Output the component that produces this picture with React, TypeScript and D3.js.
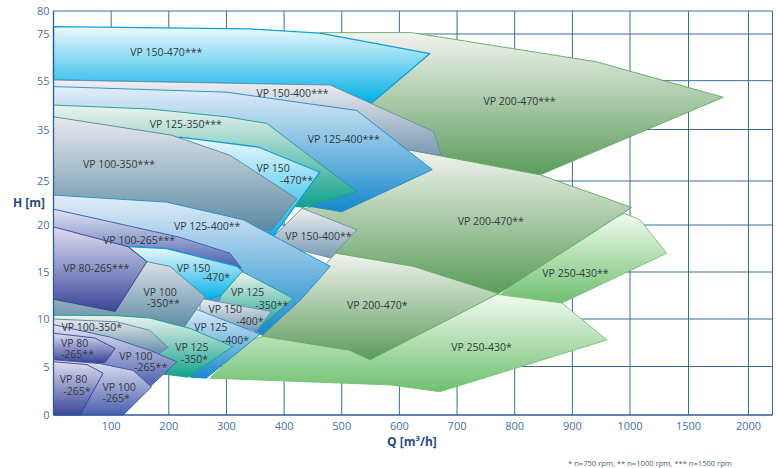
import React, { useEffect, useRef } from 'react';
import * as d3 from 'd3';

type Pt = [number, number];

// broken axes: Q is linear to 1000 then compressed, H is stretched at the bottom
const Q_BREAKS = [0, 1000, 1500, 2000, 2200];
const H_BREAKS = [0, 5, 10, 15, 20, 25, 35, 55, 75, 80];

const xTicks = [100, 200, 300, 400, 500, 600, 700, 800, 900, 1000, 1500, 2000];
const yTicks = [0, 5, 10, 15, 20, 25, 35, 55, 75, 80];

// operating fields [Q m3/h, H m]
const VP200_470_N1500: Pt[] = [[462, 75.3], [621, 75.3], [942, 63.1], [1790, 48.2], [844, 26.2], [618, 31.0], [532, 43.0]];
const VP250_430_N1000: Pt[] = [[991, 21.3], [1085, 20.6], [1314, 17.0], [882, 11.7], [772, 12.4], [878, 18.4]];
const VP200_470_N1000: Pt[] = [[618, 31.0], [844, 26.2], [1015, 22.0], [772, 12.7], [490, 17.0], [428, 21.7], [514, 23.4]];
const VP250_430_N750: Pt[] = [[772, 12.6], [882, 11.7], [960, 7.8], [670, 2.4], [584, 3.1], [271, 3.8], [341, 7.8], [600, 12.0]];
const VP200_470_N750: Pt[] = [[490, 17.0], [624, 15.6], [772, 12.7], [549, 5.7], [514, 6.7], [362, 8.2], [428, 13.1]];
const VP150_470_N1500: Pt[] = [[0, 76.6], [341, 76.1], [462, 75.2], [653, 66.6], [552, 45.9], [480, 53.1], [0, 55.3]];
const VP150_400_N1500: Pt[] = [[0, 55.3], [480, 53.2], [659, 34.6], [673, 30.0], [618, 31.0], [0, 49.1]];
const VP125_400_N1500: Pt[] = [[0, 52.6], [300, 50.3], [526, 42.8], [657, 27.2], [500, 21.5], [428, 22.3], [0, 31.0]];
const VP125_350_N1500: Pt[] = [[0, 45.0], [167, 43.4], [300, 40.2], [370, 37.5], [526, 23.8], [433, 22.0], [0, 27.1]];
const VP150_470_N1000: Pt[] = [[219, 33.5], [355, 31.6], [462, 26.7], [376, 18.4], [324, 20.0], [254, 22.8]];
const VP100_350_N1500: Pt[] = [[0, 40.2], [205, 33.9], [306, 30.0], [422, 23.0], [378, 19.4], [0, 21.7]];
const VP150_400_N1000: Pt[] = [[431, 21.9], [526, 19.5], [480, 16.5], [372, 18.2]];
const VP125_400_N1000: Pt[] = [[0, 23.4], [196, 22.6], [329, 20.6], [480, 15.6], [428, 12.0], [362, 8.3], [254, 12.0], [0, 16.3]];
const VP100_265_N1500: Pt[] = [[0, 21.8], [219, 18.7], [306, 17.0], [326, 15.4], [318, 15.6], [196, 17.5], [129, 17.7], [0, 18.9]];
const VP150_470_N750: Pt[] = [[129, 17.7], [196, 17.5], [318, 15.6], [329, 15.05], [292, 12.6], [263, 12.0], [202, 14.1]];
const VP125_350_N1000: Pt[] = [[327, 15.05], [416, 12.2], [353, 8.8], [280, 11.0], [292, 12.6]];
const VP150_400_N750: Pt[] = [[254, 12.2], [378, 10.8], [353, 8.8], [254, 9.9]];
const VP125_400_N750: Pt[] = [[237, 11.3], [358, 8.4], [265, 3.8], [237, 3.9], [219, 8.8]];
const VP100_350_N1000: Pt[] = [[115, 16.8], [162, 16.1], [202, 15.6], [263, 12.4], [225, 9.0], [0, 10.3], [0, 14.1]];
const VP80_265_N1500: Pt[] = [[0, 19.8], [129, 17.7], [162, 16.1], [107, 10.8], [0, 12.1]];
const VP125_350_N750: Pt[] = [[0, 10.4], [110, 10.35], [167, 10.1], [237, 9.0], [311, 7.1], [233, 3.9], [167, 4.4], [0, 5.7]];
const VP100_350_N750: Pt[] = [[0, 10.0], [110, 9.7], [167, 8.8], [199, 7.0], [176, 6.1], [0, 7.3]];
const VP100_265_N1000: Pt[] = [[0, 9.4], [98, 8.1], [167, 6.7], [214, 5.5], [167, 2.9], [0, 4.6]];
const VP80_265_N1000: Pt[] = [[0, 8.5], [72, 8.0], [107, 6.9], [89, 5.4], [0, 5.7]];
const VP100_265_N750: Pt[] = [[0, 5.7], [81, 5.3], [138, 4.6], [170, 2.9], [121, 0], [0, 0]];
const VP80_265_N750: Pt[] = [[0, 5.5], [58, 5.2], [86, 4.3], [46, 0], [0, 0]];

// back to front
const FIELDS: { model: string; points: Pt[] }[] = [
  { model: '200-470', points: VP200_470_N1500 },
  { model: '250-430', points: VP250_430_N1000 },
  { model: '200-470', points: VP200_470_N1000 },
  { model: '250-430', points: VP250_430_N750 },
  { model: '200-470', points: VP200_470_N750 },
  { model: '150-470', points: VP150_470_N1500 },
  { model: '150-400', points: VP150_400_N1500 },
  { model: '125-400', points: VP125_400_N1500 },
  { model: '125-350', points: VP125_350_N1500 },
  { model: '150-470', points: VP150_470_N1000 },
  { model: '100-350', points: VP100_350_N1500 },
  { model: '150-400', points: VP150_400_N1000 },
  { model: '125-400', points: VP125_400_N1000 },
  { model: '100-265', points: VP100_265_N1500 },
  { model: '150-470', points: VP150_470_N750 },
  { model: '125-350', points: VP125_350_N1000 },
  { model: '150-400', points: VP150_400_N750 },
  { model: '125-400', points: VP125_400_N750 },
  { model: '100-350', points: VP100_350_N1000 },
  { model: '80-265', points: VP80_265_N1500 },
  { model: '125-350', points: VP125_350_N750 },
  { model: '100-350', points: VP100_350_N750 },
  { model: '100-265', points: VP100_265_N1000 },
  { model: '80-265', points: VP80_265_N1000 },
  { model: '100-265', points: VP100_265_N750 },
  { model: '80-265', points: VP80_265_N750 },
];

// label lines anchored at their start, in data units
const LABELS: { text: string; q: number; h: number }[] = [
  { text: 'VP 150-470***', q: 133, h: 65.6 },
  { text: 'VP 150-400***', q: 352, h: 48.5 },
  { text: 'VP 125-350***', q: 167, h: 35.6 },
  { text: 'VP 125-400***', q: 441, h: 32.4 },
  { text: 'VP 100-350***', q: 51, h: 27.5 },
  { text: 'VP 150', q: 352, h: 26.8 },
  { text: '-470**', q: 393, h: 24.7 },
  { text: 'VP 200-470***', q: 746, h: 45.0 },
  { text: 'VP 200-470**', q: 701, h: 20.0 },
  { text: 'VP 125-400**', q: 209, h: 19.5 },
  { text: 'VP 150-400**', q: 402, h: 18.4 },
  { text: 'VP 100-265***', q: 86, h: 18.0 },
  { text: 'VP 80-265***', q: 17, h: 15.0 },
  { text: 'VP 150', q: 214, h: 15.0 },
  { text: '-470*', q: 259, h: 14.0 },
  { text: 'VP 100', q: 156, h: 12.5 },
  { text: '-350**', q: 162, h: 11.3 },
  { text: 'VP 125', q: 308, h: 12.4 },
  { text: '-350**', q: 350, h: 11.1 },
  { text: 'VP 150', q: 269, h: 10.6 },
  { text: '-400*', q: 317, h: 9.4 },
  { text: 'VP 125', q: 244, h: 8.7 },
  { text: '-400*', q: 292, h: 7.4 },
  { text: 'VP 100-350*', q: 14, h: 8.7 },
  { text: 'VP 80', q: 13, h: 7.1 },
  { text: '-265**', q: 13, h: 5.9 },
  { text: 'VP 100', q: 114, h: 5.7 },
  { text: '-265**', q: 140, h: 4.5 },
  { text: 'VP 125', q: 211, h: 6.6 },
  { text: '-350*', q: 221, h: 5.4 },
  { text: 'VP 80', q: 11, h: 3.3 },
  { text: '-265*', q: 17, h: 2.1 },
  { text: 'VP 100', q: 85, h: 2.5 },
  { text: '-265*', q: 85, h: 1.3 },
  { text: 'VP 200-470*', q: 509, h: 11.1 },
  { text: 'VP 250-430**', q: 848, h: 14.5 },
  { text: 'VP 250-430*', q: 690, h: 6.6 },
];

const MODEL_COLORS: Record<string, { top: string; bottom: string; stroke: string }> = {
  '150-470': { top: '#eef9fd', bottom: '#00b0e4', stroke: '#0fa0da' },
  '150-400': { top: '#eff0f3', bottom: '#7a9ab3', stroke: '#6c8ca8' },
  '125-400': { top: '#e4eef8', bottom: '#1588cc', stroke: '#1e88cc' },
  '125-350': { top: '#eef3ef', bottom: '#10a28c', stroke: '#139e8e' },
  '100-350': { top: '#e8e9ee', bottom: '#5a8aa2', stroke: '#5b829d' },
  '100-265': { top: '#e2e4f3', bottom: '#4a5fae', stroke: '#3b55a6' },
  '80-265': { top: '#deddf1', bottom: '#3a4599', stroke: '#33408f' },
  '200-470': { top: '#f2f3ef', bottom: '#5a9c5a', stroke: '#5fa85f' },
  '250-430': { top: '#f2faf1', bottom: '#6fc06f', stroke: '#74c274' },
};

const FONT = "'Open Sans', 'Noto Sans', sans-serif";

const App: React.FC = () => {
  const svgRef = useRef<SVGSVGElement>(null);

  useEffect(() => {
    if (!svgRef.current) return;
    const svg = d3.select(svgRef.current);
    svg.selectAll('*').remove();

    const x = d3.scaleLinear().domain(Q_BREAKS).range([53.5, 630, 688.5, 748.5, 772.5]);
    const y = d3.scaleLinear().domain(H_BREAKS).range([415, 366.5, 319, 272, 225, 181, 129.5, 80.7, 34, 11]);
    const qMax = Q_BREAKS[Q_BREAKS.length - 1];
    const hMax = H_BREAKS[H_BREAKS.length - 1];

    const defs = svg.append('defs');
    Object.entries(MODEL_COLORS).forEach(([model, c]) => {
      const g = defs
        .append('linearGradient')
        .attr('id', `grad-${model}`)
        .attr('x1', 0)
        .attr('x2', 0)
        .attr('y1', 0)
        .attr('y2', 1);
      g.append('stop').attr('offset', '0%').attr('stop-color', c.top);
      g.append('stop').attr('offset', '100%').attr('stop-color', c.bottom);
    });

    // grid
    const grid = svg.append('g').attr('stroke', '#2a5d96').attr('stroke-width', 1).attr('opacity', 0.9);
    [...xTicks, qMax].forEach((t) => {
      grid.append('line').attr('x1', x(t)).attr('x2', x(t)).attr('y1', y(hMax)).attr('y2', y(0));
    });
    yTicks
      .filter((t) => t > 0)
      .forEach((t) => {
        grid.append('line').attr('x1', x(0)).attr('x2', x(qMax)).attr('y1', y(t)).attr('y2', y(t));
      });

    // fields
    const line = d3
      .line<Pt>()
      .x((d) => x(d[0]))
      .y((d) => y(d[1]))
      .curve(d3.curveLinearClosed);

    svg
      .append('g')
      .selectAll('path')
      .data(FIELDS)
      .enter()
      .append('path')
      .attr('d', (d) => line(d.points))
      .attr('fill', (d) => `url(#grad-${d.model})`)
      .attr('stroke', (d) => MODEL_COLORS[d.model].stroke)
      .attr('stroke-width', (d) => (d.model === '150-470' ? 1.3 : 0.9))
      .attr('stroke-linejoin', 'round');

    // axis lines
    const axis = svg.append('g').attr('stroke', '#2a5d96').attr('stroke-width', 1.3);
    axis.append('line').attr('x1', x(0)).attr('x2', x(0)).attr('y1', y(hMax)).attr('y2', y(0));
    axis.append('line').attr('x1', x(0)).attr('x2', x(qMax)).attr('y1', y(0)).attr('y2', y(0));

    // field labels
    svg
      .append('g')
      .selectAll('text')
      .data(LABELS)
      .enter()
      .append('text')
      .attr('x', (d) => x(d.q))
      .attr('y', (d) => y(d.h))
      .attr('font-family', FONT)
      .attr('font-size', 10.5)
      .attr('fill', '#333a40')
      .text((d) => d.text);

    // tick labels
    svg
      .append('g')
      .selectAll('text')
      .data(xTicks)
      .enter()
      .append('text')
      .attr('x', (d) => x(d))
      .attr('y', y(0) + 15)
      .attr('text-anchor', 'middle')
      .attr('font-family', FONT)
      .attr('font-size', 11)
      .attr('fill', '#4672a8')
      .text((d) => d);

    svg
      .append('g')
      .selectAll('text')
      .data(yTicks)
      .enter()
      .append('text')
      .attr('x', x(0) - 4)
      .attr('y', (d) => y(d) + 4)
      .attr('text-anchor', 'end')
      .attr('font-family', FONT)
      .attr('font-size', 11)
      .attr('fill', '#4672a8')
      .text((d) => d);

    svg
      .append('text')
      .attr('x', 13)
      .attr('y', 207)
      .attr('font-family', FONT)
      .attr('font-size', 12)
      .attr('font-weight', 'bold')
      .attr('fill', '#1f4a86')
      .text('H [m]');

    svg
      .append('text')
      .attr('x', 387)
      .attr('y', 446)
      .attr('font-family', FONT)
      .attr('font-size', 12)
      .attr('font-weight', 'bold')
      .attr('fill', '#1f4a86')
      .text('Q [m³/h]');

    svg
      .append('text')
      .attr('x', 568)
      .attr('y', 465.5)
      .attr('font-family', FONT)
      .attr('font-size', 7.6)
      .attr('fill', '#4e5d72')
      .text('* n=750 rpm, ** n=1000 rpm, *** n=1500 rpm');
  }, []);

  return (
    <div style={{ position: 'absolute', left: 0, top: 0, background: '#fff' }}>
      <svg ref={svgRef} width={776} height={468} style={{ display: 'block' }} />
    </div>
  );
};

export default App;
